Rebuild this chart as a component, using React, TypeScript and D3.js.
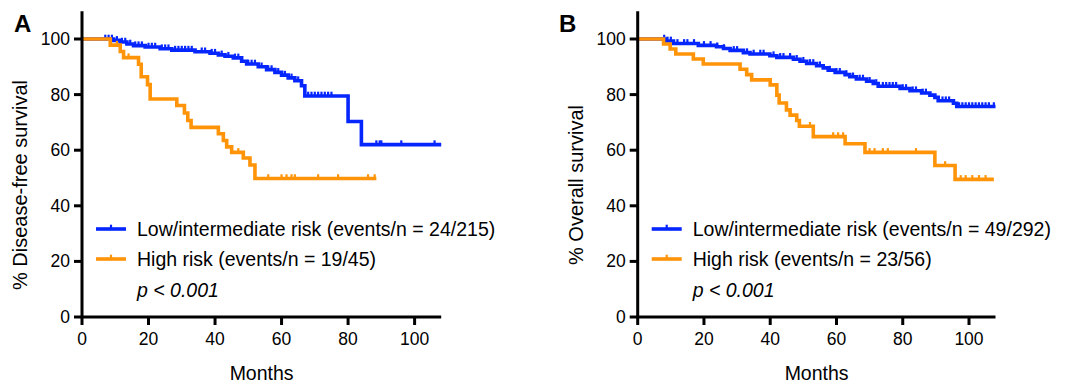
import * as d3 from "d3"

type Step = [number, number]

// Panel A - disease-free survival (months, % surviving after each event)
const dfsLowEvents: Step[] = [
  [9.5, 99.5], [11.5, 98.9], [13.5, 98.2], [15.5, 97.6], [19, 97.1], [23.5, 96.5],
  [27, 96.0], [34, 95.4], [38.5, 94.9], [41, 94.3], [43, 93.8], [45.5, 93.2],
  [48, 92.0], [49.5, 91.0], [53, 90.0], [55.5, 89.0], [58, 88.0], [60, 87.0],
  [62, 86.0], [64, 85.0], [66, 83.2], [67, 79.5], [80, 70.3], [84, 62.0],
]
const dfsLowCensors = [
  7, 8, 9, 10.5, 12, 13, 14.5, 16, 17, 18, 20, 21, 22, 24, 25, 26, 28, 29, 30, 31, 32,
  33, 36, 37, 39, 40, 42, 44, 46, 47, 50, 51, 52, 54, 56, 57, 59, 61, 63, 65, 68, 69,
  70, 71, 72, 73, 74, 75, 88.5, 89.5, 90, 96, 106,
]
const dfsLowEnd = 108

const dfsHighEvents: Step[] = [
  [8.5, 97.8], [11.5, 95.5], [12.5, 93.3], [17, 90.9], [17.8, 86.4], [19.7, 83.6],
  [20.5, 78.4], [28.5, 76.1], [30.8, 73.4], [31.8, 70.7], [32.8, 68.2], [41, 65.9],
  [42.5, 63.5], [43.5, 61.2], [45, 59.2], [48.5, 57.2], [50.5, 54.7], [52, 49.8],
]
const dfsHighCensors = [10.5, 14, 47, 56, 60, 61.5, 63, 64, 71, 77, 86, 88]
const dfsHighEnd = 88.5

// Panel B - overall survival
const osLowEvents: Step[] = [
  [8.5, 99.3], [10.8, 98.4], [18.3, 97.7], [23.8, 97.2], [25.9, 96.6], [27.9, 95.9],
  [31.9, 95.1], [33.9, 94.6], [39.9, 94.0], [42, 93.4], [47, 92.7], [49, 92.0],
  [51, 91.2], [54, 90.4], [56, 89.6], [57.5, 88.8], [59.6, 88.0], [62.6, 87.2],
  [64, 86.4], [66, 85.6], [69.1, 84.8], [71.1, 84.0], [72.6, 83.0], [79.2, 82.2],
  [82.2, 81.4], [85.7, 80.6], [88.2, 79.8], [89.7, 79.0], [90.7, 77.8], [95.3, 76.9],
  [96.3, 75.7],
]
const osLowCensors = [
  8, 9, 10, 12, 14, 15, 17, 20, 22, 24, 26, 29, 30, 33, 35, 37, 38, 41, 43, 44, 46, 48,
  50, 52, 53, 55, 58, 60, 61, 63, 65, 67, 68, 70, 72, 74, 75, 76, 77, 78, 80, 81, 83,
  84, 86, 87, 92, 93, 94, 97, 98, 99, 100, 101, 102, 103, 104, 105, 106, 107.5,
]
const osLowEnd = 108

const osHighEvents: Step[] = [
  [7.8, 98.2], [9.8, 96.4], [11.5, 94.6], [16.8, 92.8], [19.8, 91.0], [30.9, 89.1],
  [32.9, 87.2], [34.4, 85.3], [40, 83.5], [42, 79.8], [42.7, 77.0], [44.9, 74.5],
  [46, 72.6], [48, 70.7], [48.8, 68.6], [53, 64.9], [62.6, 62.3], [68.6, 59.2],
  [89.7, 54.5], [95.8, 49.5],
]
const osHighCensors = [52, 59, 60.5, 62, 70, 71.5, 74, 75.5, 84, 92.8, 97.5, 99, 101, 103, 105]
const osHighEnd = 107.5

const xTicks = [0, 20, 40, 60, 80, 100]
const yTicks = [0, 20, 40, 60, 80, 100]

const BLUE = "#0626ff"
const ORANGE = "#ff9408"
const FONT = "'Liberation Sans', Arial, Helvetica, sans-serif"

type Group = { events: Step[]; censors: number[]; end: number; color: string; label: string }

type PanelProps = {
  letter: string
  letterX: number
  left: number
  right: number
  yLabel: string
  groups: Group[]
}

function survivalAt(events: Step[], t: number) {
  let s = 100
  for (const [et, es] of events) if (et <= t) s = es
  return s
}

function Panel({ letter, letterX, left, right, yLabel, groups }: PanelProps) {
  const x = d3.scaleLinear().domain([0, 108]).range([left, right])
  const y = d3.scaleLinear().domain([0, 110]).range([317, 317 - 110 * 2.78])
  const line = d3
    .line<Step>()
    .x((d) => x(d[0]))
    .y((d) => y(d[1]))
    .curve(d3.curveStepAfter)

  const lw = 3.6
  const legX = left + 14

  return (
    <g fontFamily={FONT}>
      <text x={letterX} y={32} fontSize={24} fontWeight="bold">
        {letter}
      </text>

      {groups.map((g, i) => {
        const last = g.events[g.events.length - 1][1]
        const pts: Step[] = [[0, 100], ...g.events, [g.end, last]]
        return (
          <g key={i}>
            <path d={line(pts) || ""} fill="none" stroke={g.color} strokeWidth={lw} />
            {g.censors.map((c, j) => {
              const cy = y(survivalAt(g.events, c))
              return (
                <line
                  key={j}
                  x1={x(c)}
                  x2={x(c)}
                  y1={cy}
                  y2={cy - lw / 2 - 2.5}
                  stroke={g.color}
                  strokeWidth={2.2}
                />
              )
            })}
          </g>
        )
      })}

      {/* axes */}
      <path
        d={`M${x(0)},${y(110)}V${y(0)}H${x(108)}`}
        fill="none"
        stroke="#000"
        strokeWidth={3}
      />
      {yTicks.map((t) => (
        <g key={"y" + t}>
          <line x1={x(0) - 8} x2={x(0)} y1={y(t)} y2={y(t)} stroke="#000" strokeWidth={3} />
          <text x={x(0) - 12} y={y(t) + 6} fontSize={17.5} textAnchor="end">
            {t}
          </text>
        </g>
      ))}
      {xTicks.map((t) => (
        <g key={"x" + t}>
          <line x1={x(t)} x2={x(t)} y1={y(0)} y2={y(0) + 8} stroke="#000" strokeWidth={3} />
          <text x={x(t)} y={345} fontSize={17.5} textAnchor="middle">
            {t}
          </text>
        </g>
      ))}
      <text x={(x(0) + x(108)) / 2} y={380} fontSize={19.5} textAnchor="middle">
        Months
      </text>
      <text
        transform={`translate(${left - 55},185) rotate(-90)`}
        fontSize={20}
        textAnchor="middle"
      >
        {yLabel}
      </text>

      {/* legend */}
      {groups.map((g, i) => {
        const ly = 229 + i * 30
        return (
          <g key={"l" + i}>
            <line x1={legX} x2={legX + 30} y1={ly} y2={ly} stroke={g.color} strokeWidth={lw} />
            <line
              x1={legX + 15}
              x2={legX + 15}
              y1={ly}
              y2={ly - lw / 2 - 2.5}
              stroke={g.color}
              strokeWidth={2.2}
            />
            <text x={legX + 41} y={ly + 7} fontSize={19.5}>
              {g.label}
            </text>
          </g>
        )
      })}
      <text x={legX + 41} y={297} fontSize={19.5} fontStyle="italic">
        p {"<"} 0.001
      </text>
    </g>
  )
}

export default function App() {
  return (
    <svg
      width={1073}
      height={386}
      style={{ position: "absolute", left: 0, top: 0, background: "#fff" }}
    >
      <Panel
        letter="A"
        letterX={14}
        left={82}
        right={82 + 108 * 3.326}
        yLabel="% Disease-free survival"
        groups={[
          {
            events: dfsLowEvents,
            censors: dfsLowCensors,
            end: dfsLowEnd,
            color: BLUE,
            label: "Low/intermediate risk (events/n = 24/215)",
          },
          {
            events: dfsHighEvents,
            censors: dfsHighCensors,
            end: dfsHighEnd,
            color: ORANGE,
            label: "High risk (events/n = 19/45)",
          },
        ]}
      />
      <Panel
        letter="B"
        letterX={559}
        left={637.7}
        right={637.7 + 108 * 3.313}
        yLabel="% Overall survival"
        groups={[
          {
            events: osLowEvents,
            censors: osLowCensors,
            end: osLowEnd,
            color: BLUE,
            label: "Low/intermediate risk (events/n = 49/292)",
          },
          {
            events: osHighEvents,
            censors: osHighCensors,
            end: osHighEnd,
            color: ORANGE,
            label: "High risk (events/n = 23/56)",
          },
        ]}
      />
    </svg>
  )
}
